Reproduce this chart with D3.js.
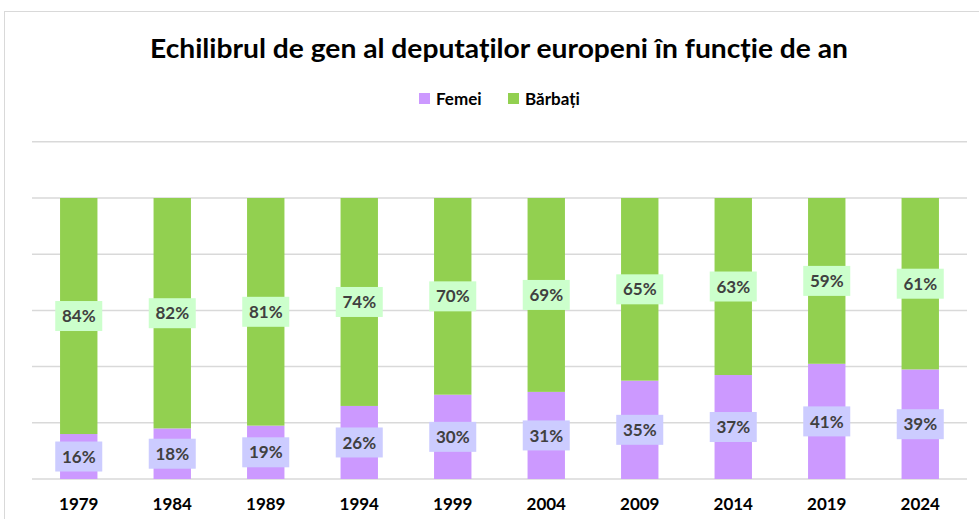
<!DOCTYPE html>
<html>
<head>
<meta charset="utf-8">
<script src="https://cdn.jsdelivr.net/npm/d3@7"></script>
<style>
  html, body { margin: 0; padding: 0; background: #fff; }
  svg { display: block; font-family: Lato, "Open Sans", "Noto Sans", sans-serif; }
</style>
</head>
<body>
<svg id="chart" width="979" height="519"></svg>
<script>
// Election years and share of women / men among MEPs (%)
const years = ["1979", "1984", "1989", "1994", "1999", "2004", "2009", "2014", "2019", "2024"];
const femei = [16, 18, 19, 26, 30, 31, 35, 37, 41, 39];
const barbati = [84, 82, 81, 74, 70, 69, 65, 63, 59, 61];
const seriesNames = ["Femei", "Bărbați"];
const yTicks = [0, 20, 40, 60, 80, 100, 120];

const colors = { "Femei": "#cc99ff", "Bărbați": "#92d050" };
const labelFill = { "Femei": "#ccccff", "Bărbați": "#ccffcc" };

const svg = d3.select("#chart");
const W = 979, H = 519;
const margin = { left: 32, right: 12 };
const plotBottom = 479;

// outer chart frame
svg.append("rect")
  .attr("x", 4.5).attr("y", 11.5)
  .attr("width", 990).attr("height", 530)
  .attr("fill", "#fff").attr("stroke", "#d9d9d9").attr("stroke-width", 1);

const x = d3.scaleBand().domain(years).range([margin.left, W - margin.right]).paddingInner(0.6).paddingOuter(0.3);
const y = d3.scaleLinear().domain([0, 120]).range([plotBottom, plotBottom - 120 * 2.81]);

// gridlines
svg.append("g").selectAll("line").data(yTicks).join("line")
  .attr("x1", margin.left).attr("x2", W - margin.right)
  .attr("y1", d => y(d)).attr("y2", d => y(d))
  .attr("stroke", "#d9d9d9").attr("stroke-width", 1.5);

const table = years.map((yr, i) => ({ year: yr, "Femei": femei[i], "Bărbați": barbati[i] }));
const stack = d3.stack().keys(seriesNames)(table);

const layers = svg.append("g").selectAll("g").data(stack).join("g")
  .attr("fill", d => colors[d.key]);
layers.selectAll("rect").data(d => d).join("rect")
  .attr("x", d => x(d.data.year))
  .attr("width", x.bandwidth())
  .attr("y", d => y(d[1]))
  .attr("height", d => y(d[0]) - y(d[1]));

// value labels in boxes at segment centres
const labelG = svg.append("g");
stack.forEach(layer => {
  layer.forEach(d => {
    const cx = x(d.data.year) + x.bandwidth() / 2;
    const cy = y((d[0] + d[1]) / 2);
    const g = labelG.append("g").attr("transform", `translate(${cx},${cy})`);
    g.append("rect")
      .attr("x", -23.5).attr("y", -15)
      .attr("width", 47).attr("height", 30)
      .attr("fill", labelFill[layer.key]);
    g.append("text")
      .attr("text-anchor", "middle").attr("dy", "0.36em")
      .attr("font-size", 17).attr("font-weight", "bold")
      .attr("fill", "#404040")
      .text((d[1] - d[0]) + "%");
  });
});

// x-axis labels
const xAxis = svg.append("g").attr("transform", `translate(0,${plotBottom})`)
  .call(d3.axisBottom(x).tickSize(0).tickPadding(19));
xAxis.select(".domain").remove();
xAxis.selectAll("text")
  .attr("font-size", 17).attr("font-weight", "bold")
  .attr("fill", "#000").attr("font-family", "Lato, sans-serif");

// title
svg.append("text")
  .attr("x", 499).attr("y", 58)
  .attr("text-anchor", "middle")
  .attr("font-size", 27).attr("font-weight", "bold").attr("fill", "#000")
  .attr("textLength", 698).attr("lengthAdjust", "spacingAndGlyphs")
  .text("Echilibrul de gen al deputaților europeni în funcție de an");

// legend
const legend = svg.append("g").attr("transform", "translate(419,93)");
seriesNames.forEach((name, i) => {
  const item = legend.append("g").attr("transform", `translate(${i === 0 ? 0 : 89},0)`);
  item.append("rect").attr("width", 11).attr("height", 11).attr("fill", colors[name]);
  item.append("text").attr("x", 17).attr("y", 11.5)
    .attr("font-size", 17).attr("font-weight", "bold").attr("fill", "#000")
    .text(name);
});
</script>
</body>
</html>
